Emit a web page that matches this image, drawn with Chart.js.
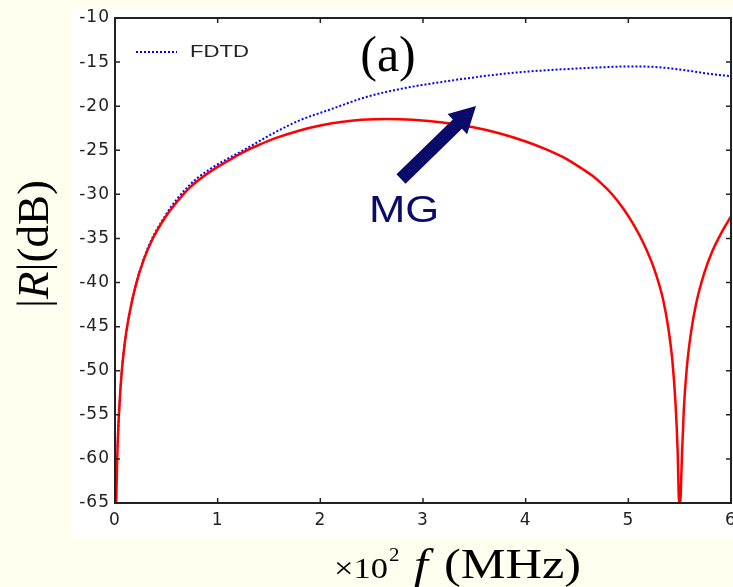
<!DOCTYPE html>
<html><head><meta charset="utf-8">
<script src="https://cdn.jsdelivr.net/npm/chart.js@4/dist/chart.umd.min.js"></script>
<style>html,body{margin:0;padding:0;background:#FFFFEF;}#wrap{width:733px;height:587px;position:relative;}</style>
</head><body><div id="wrap"><canvas id="c" width="733" height="587"></canvas></div>
<script>
// Tick labels
const freqTicks = [0, 1, 2, 3, 4, 5, 6];
const dbTicks = [-10, -15, -20, -25, -30, -35, -40, -45, -50, -55, -60, -65];

// Exact / analytic |R| (red, solid)  — frequency in units of 10^2 MHz
const exactFreq = [0.012, 0.02, 0.032, 0.049, 0.065, 0.08, 0.11, 0.146, 0.2, 0.28, 0.36, 0.49, 0.6, 0.73, 0.93, 1.1, 1.25, 1.4, 1.57, 1.8, 2.0, 2.2, 2.4, 2.65, 2.9, 3.19, 3.49, 3.75, 4.0, 4.2, 4.4, 4.55, 4.65, 4.75, 4.85, 4.95, 5.05, 5.15, 5.25, 5.34, 5.39, 5.43, 5.46, 5.48, 5.495, 5.505, 5.52, 5.54, 5.57, 5.61, 5.66, 5.74, 5.82, 5.9, 6.0];
const exactDb   = [-65, -60.6, -56.5, -52.8, -50.2, -48.4, -45.6, -43.2, -40.4, -37.4, -35.2, -32.6, -30.9, -29.2, -27.4, -26.2, -25.2, -24.4, -23.6, -22.75, -22.2, -21.8, -21.55, -21.45, -21.55, -21.85, -22.4, -23.1, -24.0, -24.9, -26.0, -27.1, -27.9, -28.9, -30.1, -31.6, -33.4, -35.6, -38.4, -42.0, -45.2, -49.0, -53.8, -59.0, -65, -65, -60.5, -54.5, -49.6, -45.7, -42.4, -38.9, -36.4, -34.5, -32.5];

// FDTD (blue, dotted)
const fdtdFreq = [0.025, 0.05, 0.08, 0.15, 0.28, 0.49, 0.73, 0.93, 1.25, 1.57, 1.8, 2.09, 2.45, 2.8, 3.1, 3.62, 3.94, 4.24, 4.72, 5.0, 5.2, 5.4, 5.6, 5.8, 6.0];
const fdtdDb   = [-58.6, -52.6, -48.3, -43.0, -37.3, -32.4, -28.9, -27.1, -25.0, -22.9, -21.6, -20.4, -18.95, -18.0, -17.4, -16.55, -16.15, -15.9, -15.6, -15.5, -15.52, -15.7, -16.0, -16.35, -16.6];

const toXY = (xs, ys) => xs.map((x, i) => ({x: x, y: ys[i]}));

function txt(ctx, s, x, y, font, color, align, sx, baseline) {
  ctx.save();
  ctx.font = font; ctx.fillStyle = color;
  ctx.textAlign = align || 'left';
  ctx.textBaseline = baseline || 'alphabetic';
  ctx.translate(x, y); ctx.scale(sx || 1, 1);
  ctx.fillText(s, 0, 0);
  ctx.restore();
}

const decor = {
  id: 'decor',
  beforeDraw(chart) {
    const ctx = chart.ctx;
    ctx.save();
    ctx.fillStyle = '#FFFFEF';
    ctx.fillRect(0, 0, chart.width, chart.height);
    ctx.fillStyle = '#FFFFFF';
    ctx.fillRect(72, 10, chart.width - 72, 528);
    ctx.restore();
    ctx.letterSpacing = '1px';
  },
  afterDraw(chart) {
    const ctx = chart.ctx;
    ctx.letterSpacing = '0px';
    const a = chart.chartArea, xs = chart.scales.x, ys = chart.scales.y;
    ctx.save();
    // box
    ctx.strokeStyle = '#222'; ctx.lineWidth = 2;
    ctx.strokeRect(a.left, a.top, a.right - a.left, a.bottom - a.top);
    // inner ticks
    ctx.lineWidth = 1.5;
    ctx.beginPath();
    freqTicks.forEach(v => { const p = xs.getPixelForValue(v);
      ctx.moveTo(p, a.bottom); ctx.lineTo(p, a.bottom - 5);
      ctx.moveTo(p, a.top); ctx.lineTo(p, a.top + 5); });
    dbTicks.forEach(v => { const p = ys.getPixelForValue(v);
      ctx.moveTo(a.left, p); ctx.lineTo(a.left + 5, p);
      ctx.moveTo(a.right, p); ctx.lineTo(a.right - 5, p); });
    ctx.stroke();
    // legend
    ctx.strokeStyle = '#0000FF'; ctx.lineWidth = 2; ctx.setLineDash([2, 2]);
    ctx.beginPath(); ctx.moveTo(136, 52); ctx.lineTo(177, 52); ctx.stroke();
    ctx.setLineDash([]);
    ctx.restore();
    txt(ctx, 'FDTD', 190, 52, '17px "Liberation Sans"', '#222', 'left', 1.3, 'middle');
    // (a)
    txt(ctx, '(a)', 388, 71, '50px "Liberation Serif"', '#000', 'center', 1);
    // MG label
    txt(ctx, 'MG', 369, 222, '37px "Liberation Sans"', '#0A0A6A', 'left', 1.18);
    // arrow
    const tail = [401, 179], tip = [476, 106];
    const dx = tip[0] - tail[0], dy = tip[1] - tail[1], L = Math.hypot(dx, dy);
    const ux = dx / L, uy = dy / L, nx = -uy, ny = ux;
    const hb = [tip[0] - 26 * ux, tip[1] - 26 * uy];
    ctx.save();
    ctx.fillStyle = '#0A0A6A';
    ctx.beginPath();
    ctx.moveTo(tail[0] + 6.5 * nx, tail[1] + 6.5 * ny);
    ctx.lineTo(hb[0] + 6.5 * nx, hb[1] + 6.5 * ny);
    ctx.lineTo(hb[0] + 14 * nx, hb[1] + 14 * ny);
    ctx.lineTo(tip[0], tip[1]);
    ctx.lineTo(hb[0] - 14 * nx, hb[1] - 14 * ny);
    ctx.lineTo(hb[0] - 6.5 * nx, hb[1] - 6.5 * ny);
    ctx.lineTo(tail[0] - 6.5 * nx, tail[1] - 6.5 * ny);
    ctx.closePath(); ctx.fill();
    ctx.restore();
    // y-axis title |R|(dB)
    ctx.save();
    ctx.translate(48, 244); ctx.rotate(-Math.PI / 2);
    const fN = '45px "Liberation Serif"', fI = 'italic 45px "Liberation Serif"';
    ctx.font = fN; const w1 = ctx.measureText('|').width, w3 = ctx.measureText('|(dB)').width;
    ctx.font = fI; const w2 = ctx.measureText('R').width;
    let x0 = -(w1 + w2 + w3) / 2;
    ctx.fillStyle = '#000'; ctx.textBaseline = 'alphabetic';
    ctx.font = fN; ctx.fillText('|', x0, 0); x0 += w1;
    ctx.font = fI; ctx.fillText('R', x0, 0); x0 += w2;
    ctx.font = fN; ctx.fillText('|(dB)', x0, 0);
    ctx.restore();
    // x-axis title ×10² f(MHz)
    txt(ctx, '\u00D710', 334, 578, '30px "Liberation Serif"', '#000', 'left', 1.15);
    txt(ctx, '2', 389, 561, '19px "Liberation Serif"', '#000', 'left', 1.1);
    txt(ctx, 'f', 414, 578, 'italic 42px "Liberation Serif"', '#000', 'left', 1.2);
    txt(ctx, '(MHz)', 444, 578, '42px "Liberation Serif"', '#000', 'left', 1.2);
  }
};

new Chart(document.getElementById('c'), {
  type: 'line',
  data: {
    datasets: [
      { label: 'Exact', data: toXY(exactFreq, exactDb), borderColor: '#FF0000', borderWidth: 2.5,
        pointRadius: 0, cubicInterpolationMode: 'monotone', fill: false },
      { label: 'FDTD', data: toXY(fdtdFreq, fdtdDb), borderColor: '#0000FF', borderWidth: 2,
        borderDash: [2, 2], pointRadius: 0, cubicInterpolationMode: 'monotone', fill: false }
    ]
  },
  options: {
    responsive: false, animation: false, devicePixelRatio: 1,
    layout: { padding: { left: 0, top: 18, right: 2, bottom: 0 } },
    plugins: { legend: { display: false }, tooltip: { enabled: false } },
    scales: {
      x: {
        type: 'linear', min: 0, max: 6,
        afterBuildTicks: s => { s.ticks = freqTicks.map(v => ({ value: v })); },
        afterFit: s => { s.height = 84; s.paddingLeft = 0; s.paddingRight = 0; },
        grid: { display: false, drawTicks: false },
        border: { display: false },
        ticks: { padding: 7, color: '#222', font: { family: 'DejaVu Sans', size: 17 }, maxRotation: 0, autoSkip: false }
      },
      y: {
        type: 'linear', min: -65, max: -10,
        afterBuildTicks: s => { s.ticks = dbTicks.map(v => ({ value: v })); },
        afterFit: s => { s.width = 115; s.paddingTop = 0; s.paddingBottom = 0; },
        grid: { display: false, drawTicks: false },
        border: { display: false },
        ticks: { padding: 5, color: '#222', font: { family: 'DejaVu Sans', size: 17 }, autoSkip: false }
      }
    }
  },
  plugins: [decor]
});
</script>
</body></html>
